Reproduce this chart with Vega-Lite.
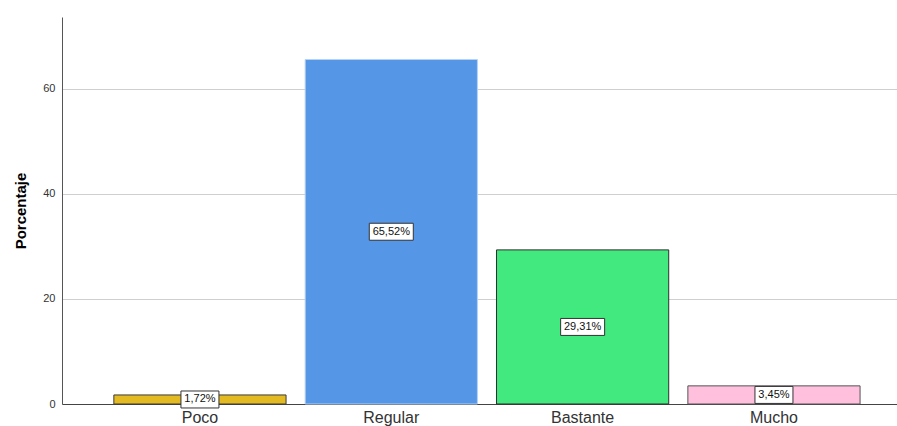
{
  "$schema": "https://vega.github.io/schema/vega-lite/v6.json",
  "width": 835,
  "height": 387,
  "autosize": {"type": "none"},
  "padding": {"left": 62, "top": 17, "right": 0, "bottom": 22},
  "background": "white",
  "config": {"view": {"stroke": null}, "font": "Liberation Sans"},
  "data": {"values": [
    {"categoria": "Poco", "pct": 1.72},
    {"categoria": "Regular", "pct": 65.52},
    {"categoria": "Bastante", "pct": 29.31},
    {"categoria": "Mucho", "pct": 3.45}
  ]},
  "transform": [
    {"calculate": "datum.pct / 2", "as": "mid"},
    {"calculate": "replace(format(datum.pct, '.2f'), '.', ',') + '%'", "as": "label"}
  ],
  "encoding": {
    "x": {
      "field": "categoria", "type": "nominal", "sort": null,
      "scale": {"paddingInner": 0.1, "paddingOuter": 0.232, "align": 0.584},
      "axis": {"title": null, "labelAngle": 0, "ticks": false, "domainColor": "#444444", "labelFontSize": 16, "labelColor": "#333333", "labelPadding": 5, "grid": false}
    }
  },
  "layer": [
    {
      "mark": {"type": "bar", "strokeWidth": 1},
      "encoding": {
        "y": {
          "field": "pct", "type": "quantitative",
          "scale": {"domain": [0, 73.6], "nice": false},
          "axis": {"values": [0, 20, 40, 60], "ticks": false, "domainColor": "#555555", "gridColor": "#CFCFCF", "labelFontSize": 11, "labelColor": "#333333", "labelPadding": 7, "title": "Porcentaje", "titleFontSize": 15, "titleFontWeight": "bold", "titleColor": "#000000", "titlePadding": 14}
        },
        "fill": {"field": "categoria", "type": "nominal", "legend": null,
          "scale": {"domain": ["Poco", "Regular", "Bastante", "Mucho"], "range": ["#E3BA22", "#5596E6", "#41E97E", "#FFC0DE"]}},
        "stroke": {"field": "categoria", "type": "nominal", "legend": null,
          "scale": {"domain": ["Poco", "Regular", "Bastante", "Mucho"], "range": ["#3A3A3A", "#B5D2F5", "#2E2E2E", "#555555"]}}
      }
    },
    {
      "mark": {"type": "point", "filled": true, "fill": "white", "stroke": "#333333", "strokeWidth": 1, "opacity": 1},
      "encoding": {
        "y": {"field": "mid", "type": "quantitative"},
        "shape": {"condition": {"test": "length(datum.label) > 5", "value": "M-1,-0.386L1,-0.386L1,0.386L-1,0.386Z"}, "value": "M-1,-0.447L1,-0.447L1,0.447L-1,0.447Z"},
        "size": {"condition": {"test": "length(datum.label) > 5", "value": 1936}, "value": 1444}
      }
    },
    {
      "mark": {"type": "text", "fontSize": 11, "color": "#111111", "baseline": "middle", "align": "center"},
      "encoding": {
        "y": {"field": "mid", "type": "quantitative"},
        "text": {"field": "label", "type": "nominal"}
      }
    }
  ]
}
